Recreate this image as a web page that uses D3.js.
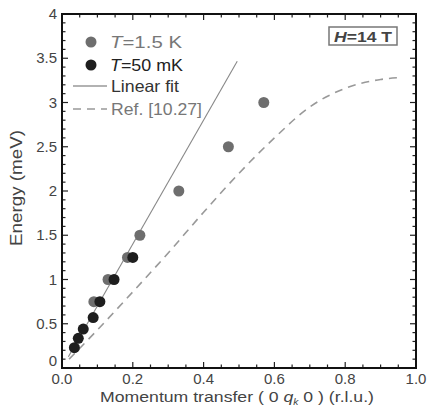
<!DOCTYPE html>
<html><head><meta charset="utf-8">
<script src="https://cdn.jsdelivr.net/npm/d3@7"></script>
<style>body{margin:0;background:#fff}svg{display:block}text{font-family:"Liberation Sans",Arial,sans-serif}</style>
</head><body><svg id="c" width="427" height="411"></svg>
<script>
const xTicks = [0, 0.2, 0.4, 0.6, 0.8, 1.0];
const xTickLabels = ["0.0", "0.2", "0.4", "0.6", "0.8", "1.0"];
const yTicks = [0, 0.5, 1, 1.5, 2, 2.5, 3, 3.5, 4];
const yTickLabels = ["0", "0.5", "1", "1.5", "2", "2.5", "3", "3.5", "4"];
const warmQ = [0.09, 0.13, 0.185, 0.22, 0.33, 0.47, 0.57];
const warmE = [0.75, 1.0, 1.25, 1.5, 2.0, 2.5, 3.0];
const coldQ = [0.035, 0.046, 0.06, 0.088, 0.107, 0.147, 0.2];
const coldE = [0.23, 0.335, 0.44, 0.57, 0.75, 1.0, 1.25];
const fitQ = [0.018, 0.495];
const fitE = [0.126, 3.465];
const refQ = [0.02, 0.1, 0.2, 0.3, 0.4, 0.5, 0.6, 0.7, 0.8, 0.9, 0.95];
const refE = [0.1, 0.43, 0.86, 1.3, 1.76, 2.2, 2.6, 2.95, 3.16, 3.26, 3.28];

const svg = d3.select("#c");
const L = 62, R = 416, T = 14, B = 368;
const x = d3.scaleLinear().domain([0, 1]).range([L, R]);
const y = d3.scaleLinear().domain([0, 4]).range([B, T]);

// ticks (inward, all sides)
const xMinor = d3.range(0, 1.0001, 0.05);
const yMinor = d3.range(0, 4.0001, 0.1);
const isMajX = v => Math.abs(v * 5 - Math.round(v * 5)) < 1e-6;
const isMajY = v => Math.abs(v * 2 - Math.round(v * 2)) < 1e-6;
const tg = svg.append("g").attr("stroke", "#222").attr("stroke-width", 1.2);
xMinor.forEach(v => {
  const len = isMajX(v) ? 6 : 3.5;
  tg.append("line").attr("x1", x(v)).attr("x2", x(v)).attr("y1", B).attr("y2", B - len);
  tg.append("line").attr("x1", x(v)).attr("x2", x(v)).attr("y1", T).attr("y2", T + len);
});
yMinor.forEach(v => {
  const len = isMajY(v) ? 6 : 3.5;
  tg.append("line").attr("y1", y(v)).attr("y2", y(v)).attr("x1", L).attr("x2", L + len);
  tg.append("line").attr("y1", y(v)).attr("y2", y(v)).attr("x1", R).attr("x2", R - len);
});

// frame
svg.append("rect").attr("x", L).attr("y", T).attr("width", R - L).attr("height", B - T)
  .attr("fill", "none").attr("stroke", "#111").attr("stroke-width", 2);

// tick labels
svg.append("g").selectAll("text").data(xTicks).join("text")
  .attr("x", d => x(d)).attr("y", 384).attr("text-anchor", "middle")
  .attr("font-size", 15).attr("fill", "#444").text((d, i) => xTickLabels[i]);
svg.append("g").selectAll("text").data(yTicks).join("text")
  .attr("x", 57).attr("y", d => y(d) + 5 - (d === 0 ? 7 : 0)).attr("text-anchor", "end")
  .attr("font-size", 15).attr("fill", "#444").text((d, i) => yTickLabels[i]);

// axis titles
const xt = svg.append("text").attr("x", 100).attr("y", 402)
  .attr("font-size", 15.5).attr("fill", "#444")
  .attr("textLength", 274).attr("lengthAdjust", "spacingAndGlyphs");
xt.append("tspan").text("Momentum transfer ( 0 ");
xt.append("tspan").attr("font-style", "italic").text("q");
xt.append("tspan").attr("font-style", "italic").attr("font-size", 9).attr("dy", 3).text("k");
xt.append("tspan").attr("dy", -3).text(" 0 ) (r.l.u.)");
svg.append("text").attr("transform", "translate(22,188) rotate(-90)").attr("text-anchor", "middle")
  .attr("font-size", 16).attr("fill", "#444")
  .attr("textLength", 116).attr("lengthAdjust", "spacingAndGlyphs").text("Energy (meV)");

// reference dashed curve
const line = d3.line().x(d => x(d[0])).y(d => y(d[1]));
svg.append("path").datum(refQ.map((q, i) => [q, refE[i]]))
  .attr("d", line.curve(d3.curveMonotoneX)).attr("fill", "none")
  .attr("stroke", "#999").attr("stroke-width", 1.6).attr("stroke-dasharray", "8,6");
// linear fit
svg.append("path").datum(fitQ.map((q, i) => [q, fitE[i]]))
  .attr("d", d3.line().x(d => x(d[0])).y(d => y(d[1]))).attr("fill", "none")
  .attr("stroke", "#888").attr("stroke-width", 1.1);

// points (warm first, cold on top)
svg.append("g").selectAll("circle").data(warmQ.map((q, i) => [q, warmE[i]])).join("circle")
  .attr("cx", d => x(d[0])).attr("cy", d => y(d[1])).attr("r", 5.5).attr("fill", "#6e6e6e");
svg.append("g").selectAll("circle").data(coldQ.map((q, i) => [q, coldE[i]])).join("circle")
  .attr("cx", d => x(d[0])).attr("cy", d => y(d[1])).attr("r", 5.5).attr("fill", "#1e1e1e");

// legend
const lg = svg.append("g");
lg.append("circle").attr("cx", 91).attr("cy", 42).attr("r", 5.5).attr("fill", "#6e6e6e");
lg.append("circle").attr("cx", 91).attr("cy", 65).attr("r", 5.5).attr("fill", "#1e1e1e");
lg.append("line").attr("x1", 73).attr("x2", 107).attr("y1", 86).attr("y2", 86).attr("stroke", "#666").attr("stroke-width", 1.1);
lg.append("line").attr("x1", 73).attr("x2", 107).attr("y1", 109).attr("y2", 109).attr("stroke", "#999").attr("stroke-width", 1.6).attr("stroke-dasharray", "8,6");
const fs = 16.5;
const l1 = lg.append("text").attr("x", 110).attr("y", 48).attr("font-size", fs).attr("fill", "#777")
  .attr("textLength", 72).attr("lengthAdjust", "spacingAndGlyphs");
l1.append("tspan").attr("font-style", "italic").text("T");
l1.append("tspan").text("=1.5 K");
const l2 = lg.append("text").attr("x", 110).attr("y", 71).attr("font-size", fs).attr("fill", "#222")
  .attr("textLength", 73).attr("lengthAdjust", "spacingAndGlyphs");
l2.append("tspan").attr("font-style", "italic").text("T");
l2.append("tspan").text("=50 mK");
lg.append("text").attr("x", 111).attr("y", 92).attr("font-size", fs).attr("fill", "#333")
  .attr("textLength", 68).attr("lengthAdjust", "spacingAndGlyphs").text("Linear fit");
lg.append("text").attr("x", 111).attr("y", 115).attr("font-size", fs).attr("fill", "#777")
  .attr("textLength", 91).attr("lengthAdjust", "spacingAndGlyphs").text("Ref. [10.27]");

// H box
svg.append("rect").attr("x", 329).attr("y", 27).attr("width", 68).attr("height", 18)
  .attr("fill", "#fff").attr("stroke", "#777").attr("stroke-width", 1.5);
const ht = svg.append("text").attr("x", 334).attr("y", 42)
  .attr("font-size", 15.5).attr("font-weight", "bold").attr("fill", "#444")
  .attr("textLength", 58).attr("lengthAdjust", "spacingAndGlyphs");
ht.append("tspan").attr("font-style", "italic").text("H");
ht.append("tspan").text("=14 T");
</script></body></html>
